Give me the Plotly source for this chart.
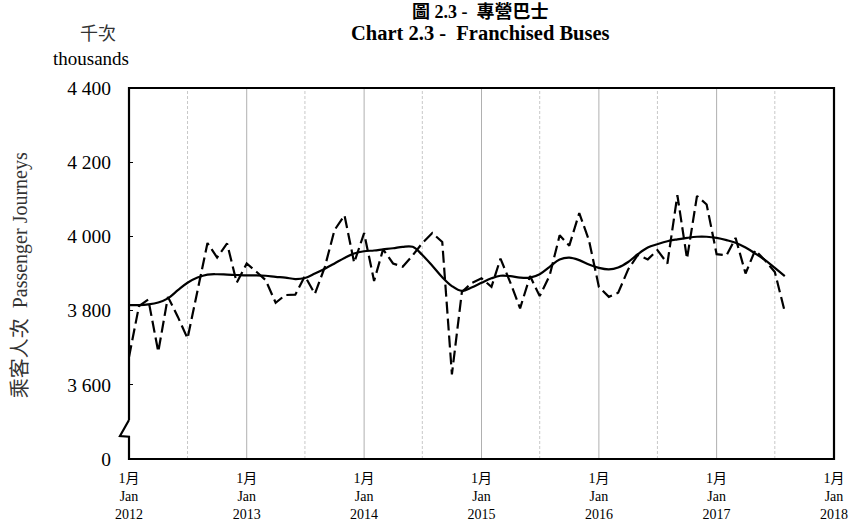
import plotly.graph_objects as go
import pandas as pd

# ---- data ----
start_month = "2012-01-01"
actual = [3675, 3812, 3830, 3689, 3837, 3783, 3725, 3858, 3982, 3943, 3981, 3875,
          3927, 3904, 3882, 3821, 3842, 3843, 3893, 3845, 3918, 4017, 4057, 3929,
          4009, 3880, 3965, 3927, 3918, 3949, 3982, 4009, 3985, 3628, 3850, 3874,
          3887, 3864, 3940, 3875, 3806, 3893, 3839, 3895, 4003, 3975, 4063, 3990,
          3864, 3837, 3848, 3911, 3950, 3938, 3963, 3927, 4111, 3940, 4109, 4086,
          3952, 3949, 3996, 3900, 3963, 3935, 3904, 3797]
trend = [3815, 3815, 3817, 3822, 3833, 3855, 3875, 3889, 3897, 3898, 3897, 3896,
         3895, 3895, 3894, 3891, 3889, 3885, 3888, 3900, 3913, 3927, 3942, 3954,
         3960, 3962, 3965, 3968, 3972, 3972, 3950, 3921, 3890, 3866, 3853, 3862,
         3875, 3887, 3894, 3893, 3889, 3889, 3898, 3918, 3938, 3943, 3936, 3924,
         3915, 3911, 3916, 3931, 3952, 3970, 3979, 3987, 3992, 3996, 3999, 3999,
         3996, 3990, 3983, 3970, 3954, 3936, 3915, 3893]
tick_years = [2012, 2013, 2014, 2015, 2016, 2017, 2018]
y_tick_vals = [3400, 3600, 3800, 4000, 4200, 4400]
y_tick_text = ["0", "3 600", "3 800", "4 000", "4 200", "4 400"]

months = pd.date_range(start_month, periods=len(actual), freq="MS")

FONT = "Liberation Serif, Times New Roman, Noto Sans CJK TC, serif"

fig = go.Figure()
fig.add_trace(go.Scatter(x=months, y=actual, mode="lines",
                         line=dict(color="black", width=2.2, dash="12px,5px"),
                         hoverinfo="skip", showlegend=False))
fig.add_trace(go.Scatter(x=months, y=trend, mode="lines",
                         line=dict(color="black", width=2.2, shape="spline", smoothing=1.0),
                         hoverinfo="skip", showlegend=False))

shapes = []
for yr in tick_years[1:-1]:
    shapes.append(dict(type="line", xref="x", yref="paper", x0=f"{yr}-01-01", x1=f"{yr}-01-01",
                       y0=0, y1=1, line=dict(color="#b0b0b0", width=1), layer="below"))
for yr in tick_years[:-1]:
    shapes.append(dict(type="line", xref="x", yref="paper", x0=f"{yr}-07-01", x1=f"{yr}-07-01",
                       y0=0, y1=1, line=dict(color="#c8c8c8", width=1, dash="3px,2px"), layer="below"))

# frame with axis break on the left
ylo, yhi = y_tick_vals[0], y_tick_vals[-1]
def py(v):
    return (v - ylo) / (yhi - ylo)
zx = -0.0128
frame = (f"M 0,{py(3505)} L 0,1 L 1,1 L 1,0 L 0,0 L 0,{py(3460)} "
         f"L {zx},{py(3462)} L 0,{py(3505)}")
shapes.append(dict(type="path", xref="paper", yref="paper", path=frame,
                   line=dict(color="black", width=2.2)))

PH = 371.5   # plot height in px
BOT = 459    # bottom of plot in page px

annotations = [
    dict(text="<b>圖 2.3 -  專營巴士</b>", xref="paper", yref="paper", x=0.498, y=(BOT - 11.5) / PH,
         showarrow=False, font=dict(size=18, family=FONT, color="black"), xanchor="center", yanchor="middle"),
    dict(text="<b>Chart 2.3 -  Franchised Buses</b>", xref="paper", yref="paper", x=0.498, y=(BOT - 32) / PH,
         showarrow=False, font=dict(size=20.5, family=FONT, color="black"), xanchor="center", yanchor="middle"),
    dict(text="千次", xref="paper", yref="paper", x=(98 - 129) / 705, y=(BOT - 33) / PH,
         showarrow=False, font=dict(size=18, family=FONT, color="#333"), xanchor="center", yanchor="middle"),
    dict(text="thousands", xref="paper", yref="paper", x=(91 - 129) / 705, y=(BOT - 58) / PH,
         showarrow=False, font=dict(size=19, family=FONT, color="black"), xanchor="center", yanchor="middle"),
    dict(text="乘客人次  Passenger Journeys", xref="paper", yref="paper", x=(20 - 129) / 705, y=0.495,
         showarrow=False, textangle=-90, font=dict(size=20, family=FONT, color="#333"),
         xanchor="center", yanchor="middle"),
]

fig.update_layout(
    width=852, height=522,
    margin=dict(l=129, r=18, t=88, b=63, autoexpand=False),
    paper_bgcolor="white", plot_bgcolor="white",
    font=dict(family=FONT, color="black"),
    shapes=shapes, annotations=annotations,
    showlegend=False,
)
fig.update_xaxes(
    range=[f"{tick_years[0]}-01-01", f"{tick_years[-1]}-01-01"],
    tickmode="array",
    tickvals=[f"{y}-01-01" for y in tick_years],
    ticktext=[f"1月<br>Jan<br>{y}" for y in tick_years],
    showgrid=False, zeroline=False, showline=False, ticks="",
    tickfont=dict(size=14, family=FONT, color="black"),
    ticklabelstandoff=9, automargin=False,
)
fig.update_yaxes(
    range=[ylo, yhi], tickmode="array", tickvals=y_tick_vals, ticktext=y_tick_text,
    showgrid=False, zeroline=False, showline=False,
    ticks="inside", ticklen=4, tickcolor="black", tickwidth=1,
    tickfont=dict(size=19.5, family=FONT, color="black"),
    ticklabelstandoff=17, automargin=False,
)
fig.write_html("out.html",
               config={"displayModeBar": False},
               post_script="document.body.style.margin='0';document.body.style.overflow='hidden';")
